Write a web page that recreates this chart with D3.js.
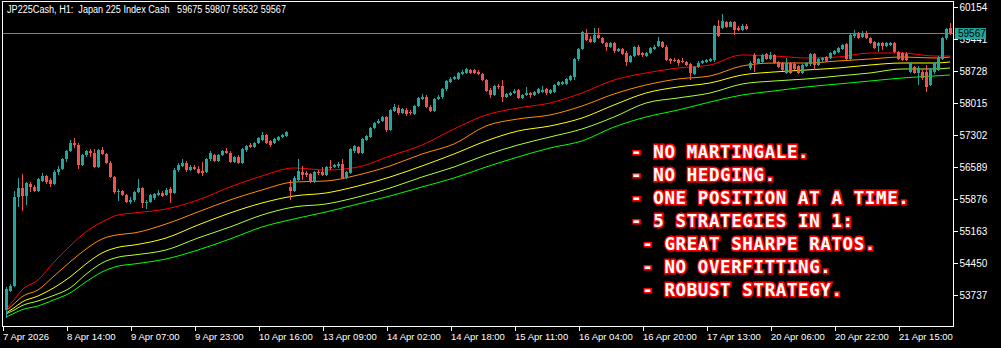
<!DOCTYPE html>
<html>
<head>
<meta charset="utf-8">
<script src="https://cdn.jsdelivr.net/npm/d3@7"></script>
<style>
  html, body { margin: 0; padding: 0; background: #000; }
  svg { display: block; }
</style>
</head>
<body>
<div id="grafico"></div>
<script>
// --- datos (JP225Cash H1) ---
const opens = [53403,53827,53938,55921,56121,55943,56210,56144,56055,56277,56389,56300,56210,56478,56545,56767,56946,57124,57079,56634,
  56857,56946,56901,56589,56968,56879,56678,56366,56032,56055,55965,55809,55854,56032,56121,55787,55809,55899,55965,56010,
  55965,56099,56010,56522,56612,56678,56522,56589,56545,56500,56478,56767,56857,56723,56857,56946,56901,56701,56812,56678,
  56968,57079,57035,57124,57191,57302,57169,57124,57191,57258,57280,56144,56055,56300,56478,56456,56433,56255,56478,56478,
  56411,56589,56589,56612,56656,56344,56456,56946,57035,56901,57191,57258,57458,57570,57614,57703,57414,57837,57904,57792,
  57859,57815,57770,57948,58104,58149,57926,57837,58104,58149,58327,58483,58550,58550,58661,58684,58750,58750,58706,58661,
  58528,58305,58193,58394,58394,58149,58193,58238,58305,58127,58193,58238,58193,58238,58260,58327,58238,58260,58416,58438,
  58438,58528,58594,58995,59218,59575,59441,59374,59530,59463,59352,59263,59352,59174,59218,59129,58929,59062,59263,59129,
  59062,59129,59218,59285,59374,59263,58995,58973,58973,58951,58929,58884,58661,58817,58906,58929,58951,58973,59731,59686,
  59820,59708,59820,59686,59642,59731,58795,59085,58906,58929,59107,58995,59085,58929,58906,58684,58906,58884,58840,58684,
  58840,58884,59107,58862,58973,59040,59018,59107,59151,59218,59330,58995,59508,59575,59486,59575,59463,59374,59285,59352,
  59285,59307,59352,59151,59129,59107,58706,58817,58684,58706,58706,58416,58706,58750,58995,59463,59675];
const highs = [53916,53982,56055,56344,56433,56255,56255,56188,56344,56456,56411,56344,56522,56612,56790,56968,57191,57235,57124,56879,
  56968,56990,56990,56990,57035,56901,56723,56389,56099,56077,55988,55921,56055,56322,56144,55854,55988,56010,56077,56055,
  56121,56144,56567,56678,56767,56723,56634,56634,56612,56701,56790,56946,56879,56879,56968,57013,56946,56834,56857,57013,
  57079,57124,57146,57258,57369,57324,57191,57235,57280,57324,57391,56300,56389,56767,56612,56500,56456,56500,56522,56589,
  56612,56745,56656,56701,56767,56500,57013,57079,57057,57235,57302,57480,57592,57659,57726,57726,57881,57993,57971,57904,
  57904,57859,57971,58149,58216,58193,57971,58127,58193,58349,58528,58594,58617,58706,58750,58795,58773,58773,58750,58684,
  58550,58349,58416,58438,58528,58238,58260,58327,58327,58216,58372,58260,58283,58349,58394,58349,58327,58438,58505,58505,
  58572,58639,59018,59241,59619,59664,59508,59686,59686,59486,59374,59374,59374,59241,59241,59174,59085,59285,59307,59151,
  59151,59263,59307,59486,59397,59307,59018,59018,58995,59018,58951,58906,58840,58951,58973,58995,59018,59753,59864,59998,
  59842,59842,59842,59731,59775,59775,58951,59129,59018,59107,59129,59151,59107,58951,58929,59018,58929,58929,58862,58884,
  58929,59129,59129,59018,59040,59062,59151,59196,59263,59330,59352,59552,59642,59597,59619,59619,59486,59397,59374,59374,
  59374,59374,59374,59174,59151,59151,58929,58840,58840,58750,58862,58795,58929,59062,59486,59686,59807];
const lows = [53225,53804,53916,55698,55609,55743,56032,56032,56032,56255,56210,56144,56188,56411,56522,56701,56923,57013,56545,56612,
  56812,56812,56567,56567,56857,56656,56344,55988,55832,55943,55787,55765,55809,56010,55676,55653,55787,55854,55943,55921,
  55943,55787,55988,56478,56589,56478,56500,56522,56433,56389,56456,56723,56701,56701,56834,56879,56678,56678,56656,56656,
  56923,57013,57013,57102,57169,57102,57035,57102,57169,57235,57258,55854,56032,56277,56300,56366,56233,56233,56411,56389,
  56389,56522,56567,56567,56322,56322,56433,56901,56879,56879,57169,57235,57436,57547,57592,57369,57391,57815,57748,57770,
  57726,57748,57748,57926,58082,57904,57815,57815,58082,58104,58283,58461,58528,58528,58639,58661,58661,58661,58639,58505,
  58260,58127,58171,58327,58037,58127,58171,58216,58104,58104,58171,58127,58171,58216,58238,58193,58216,58238,58394,58416,
  58416,58505,58528,58951,59196,59397,59352,59352,59441,59330,59174,59241,59129,59151,59085,58840,58906,59040,59062,59040,
  59040,59107,59196,59263,59241,58951,58884,58929,58840,58906,58840,58528,58639,58795,58884,58906,58929,58929,59486,59664,
  59686,59700,59530,59619,59619,59642,58750,58706,58884,58884,58973,58973,58884,58795,58728,58661,58661,58750,58661,58661,
  58817,58840,58750,58840,58929,58929,58995,59085,59129,59196,58973,58973,59463,59441,59463,59441,59330,59218,59151,59196,
  59263,59285,59129,58973,58951,58951,58684,58661,58416,58528,58260,58394,58661,58728,58973,59419,59532];
const closes = [53871,53938,55921,56121,55943,56233,56144,56055,56322,56389,56255,56210,56478,56545,56767,56946,57124,57079,56634,56857,
  56946,56901,56589,56968,56879,56678,56366,56032,56055,55965,55809,55854,56032,56121,55787,55809,55965,55988,56010,55943,
  56077,56010,56522,56634,56678,56522,56589,56545,56456,56456,56767,56901,56723,56857,56946,56901,56701,56812,56678,56990,
  57057,57035,57124,57235,57302,57124,57079,57213,57258,57302,57369,56055,56344,56500,56411,56411,56255,56478,56456,56411,
  56589,56567,56634,56656,56344,56478,56990,57057,56901,57213,57280,57458,57570,57614,57703,57414,57859,57926,57792,57881,
  57770,57792,57948,58127,58149,57926,57837,58104,58149,58327,58505,58550,58594,58684,58706,58773,58684,58684,58661,58528,
  58283,58193,58394,58372,58149,58216,58238,58283,58127,58193,58238,58193,58260,58327,58305,58238,58305,58416,58483,58483,
  58550,58617,58995,59218,59597,59419,59374,59530,59463,59352,59263,59352,59174,59218,59107,58929,59062,59263,59085,59085,
  59129,59241,59263,59397,59263,58973,58951,58951,58906,58929,58862,58684,58817,58906,58951,58973,58995,59731,59508,59842,
  59708,59820,59642,59642,59731,59664,58906,58906,58995,59085,58995,59085,58906,58817,58750,58906,58684,58773,58684,58862,
  58906,59107,58862,58995,59018,58951,59129,59174,59241,59307,58995,59530,59575,59463,59552,59463,59352,59241,59352,59285,
  59352,59352,59151,58995,58973,58973,58906,58684,58795,58572,58372,58750,58906,59018,59463,59664,59567];

// medias moviles, leidas cada 8 velas (mas densas al principio)
const maBars = [0,2,4,8,12,16,20,24,28,32,40,48,56,64,72,80,88,96,104,112,120,128,136,144,152,160,168,176,184,192,200,208,216,224,232,236];
const maRoja = [53425,53625,53850,54072,54470,54829,55145,55364,55520,55564,55653,55854,56144,56389,56567,56522,56589,56834,57079,57436,
  57748,57904,58015,58238,58528,58684,58795,58862,59085,59062,59018,59040,59129,59129,59062,59062];
const maNaranja = [53381,53540,53700,53849,54160,54473,54760,54985,55080,55119,55319,55587,55854,56077,56255,56277,56411,56612,56879,57102,
  57503,57659,57748,57948,58216,58416,58550,58617,58840,58906,58906,58951,58995,59040,59018,59040];
const maAmarilla = [53336,53450,53580,53715,53900,54138,54430,54673,54800,54851,55007,55297,55564,55787,55943,56010,56166,56366,56612,56879,
  57169,57391,57503,57681,57971,58238,58372,58461,58639,58706,58750,58795,58862,58906,58906,58929];
const maLima = [53314,53400,53500,53604,53730,53893,54200,54450,54580,54629,54740,55007,55252,55520,55698,55765,55921,56121,56366,56589,
  56857,57079,57258,57436,57703,58015,58127,58238,58438,58505,58550,58617,58684,58773,58773,58795];
const maVerde = [53247,53330,53410,53492,53630,53782,54030,54250,54380,54428,54539,54740,54985,55252,55431,55587,55765,55943,56144,56344,
  56589,56812,57013,57169,57480,57703,57859,58037,58193,58283,58372,58438,58505,58572,58617,58639];

const precioTicks = [60154,59441,58728,58015,57302,56589,55876,55163,54450,53737];
const fechaBars = [0,16,32,48,64,80,96,112,128,144,160,176,192,208,224];
const fechaLabels = ["7 Apr 2026","8 Apr 14:00","9 Apr 07:00","9 Apr 23:00","10 Apr 16:00","13 Apr 09:00","14 Apr 02:00",
  "14 Apr 18:00","15 Apr 11:00","16 Apr 04:00","16 Apr 20:00","17 Apr 13:00","20 Apr 06:00","20 Apr 22:00","21 Apr 15:00"];
const titulo = "JP225Cash, H1:  Japan 225 Index Cash   59675 59807 59532 59567";
const bid = 59567;
const notas = ["- NO MARTINGALE.","- NO HEDGING.","- ONE POSITION AT A TIME.","- 5 STRATEGIES IN 1:",
  " - GREAT SHARPE RATOS."," - NO OVERFITTING."," - ROBUST STRATEGY."];

const ancho = 1001, alto = 348;
const alcista = "#26a69a", bajista = "#ef5350";
const fuente = "'Liberation Sans', Arial, sans-serif";

const x = d3.scaleLinear().domain([0, 236]).range([6, 950]);
const xTick = d3.scaleLinear().domain([0, 236]).range([2.5, 946.5]);
const y = d3.scaleLinear().domain([53737, 60154]).range([295, 7]);

const $svg = d3.select("#grafico").append("svg")
  .attr("width", ancho).attr("height", alto);

$svg.append("rect").attr("width", ancho).attr("height", alto).attr("fill", "#000");

// medias
const linea = serie => d3.line()
  .x((d, i) => x(maBars[i]))
  .y(d => y(d))
  .curve(d3.curveMonotoneX)(serie);
[[maVerde, "#00ff00"], [maLima, "#adff2f"], [maAmarilla, "#ffff00"], [maNaranja, "#ff8c00"], [maRoja, "#ff0000"]]
  .forEach(([serie, color]) => {
    $svg.append("path")
      .attr("d", linea(serie))
      .attr("fill", "none")
      .attr("stroke", color)
      .attr("stroke-width", 1);
  });

// velas
const velas = $svg.append("g").attr("shape-rendering", "crispEdges");
closes.forEach((c, i) => {
  const o = opens[i];
  const color = c >= o ? alcista : bajista;
  const cx = x(i);
  velas.append("line")
    .attr("x1", cx + 0.5).attr("x2", cx + 0.5)
    .attr("y1", y(highs[i])).attr("y2", y(lows[i]))
    .attr("stroke", color);
  const y0 = y(Math.max(o, c)), y1 = y(Math.min(o, c));
  velas.append("rect")
    .attr("x", cx - 1).attr("width", 3)
    .attr("y", y0).attr("height", Math.max(1, y1 - y0))
    .attr("fill", color);
});

// linea de precio
$svg.append("line")
  .attr("x1", 2.5).attr("x2", 953.5)
  .attr("y1", Math.round(y(bid)) + 0.5).attr("y2", Math.round(y(bid)) + 0.5)
  .attr("stroke", alcista);

// marco
$svg.append("rect")
  .attr("x", 2.5).attr("y", 1.5).attr("width", 951).attr("height", 325)
  .attr("fill", "none").attr("stroke", "#fff").attr("shape-rendering", "crispEdges");

// eje de precios
const ejeY = $svg.append("g")
  .attr("transform", "translate(953.5,0)")
  .call(d3.axisRight(y).tickValues(precioTicks).tickSize(4).tickPadding(2).tickFormat(d => d));
ejeY.select(".domain").remove();
ejeY.selectAll("line").attr("stroke", "#fff").attr("shape-rendering", "crispEdges");
ejeY.selectAll("text").attr("fill", "#fff").attr("font-family", fuente).attr("font-size", 10);

// eje de fechas
const ejeX = $svg.append("g")
  .attr("transform", "translate(0,326.5)")
  .call(d3.axisBottom(xTick).tickValues(fechaBars).tickSize(4).tickPadding(3)
    .tickFormat((d, i) => fechaLabels[i]));
ejeX.select(".domain").remove();
ejeX.selectAll("line").attr("stroke", "#fff").attr("shape-rendering", "crispEdges");
ejeX.selectAll("text").attr("fill", "#fff").attr("font-family", fuente).attr("font-size", 9.5)
  .attr("text-anchor", "start").attr("x", 0);

// etiqueta del bid
const yb = Math.round(y(bid));
$svg.append("rect")
  .attr("x", 955).attr("y", yb - 5).attr("width", 31).attr("height", 11)
  .attr("fill", alcista);
$svg.append("text")
  .attr("x", 958).attr("y", yb + 4)
  .attr("fill", "#000").attr("font-family", fuente).attr("font-size", 10)
  .text(bid);

// titulo
$svg.append("text")
  .attr("x", 7).attr("y", 12.5)
  .attr("fill", "#fff").attr("font-family", fuente).attr("font-size", 10)
  .attr("textLength", 279).attr("lengthAdjust", "spacingAndGlyphs")
  .style("white-space", "pre")
  .text(titulo);

// notas
$svg.append("g").selectAll("text")
  .data(notas).join("text")
  .attr("x", 631)
  .attr("y", (d, i) => 158 + i * 23)
  .attr("font-family", "'DejaVu Sans Mono', monospace")
  .attr("font-weight", "bold")
  .attr("font-size", 17.5)
  .attr("letter-spacing", 0.6)
  .attr("fill", "#fff")
  .attr("stroke", "#ff0000")
  .attr("stroke-width", 3)
  .attr("paint-order", "stroke")
  .style("white-space", "pre")
  .text(d => d);
</script>
</body>
</html>
